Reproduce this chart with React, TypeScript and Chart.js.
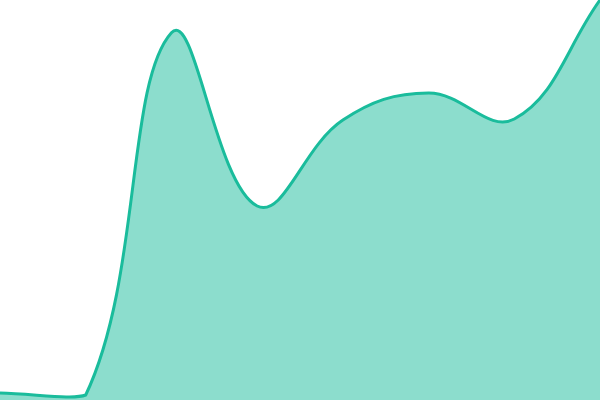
import React, { useEffect, useRef } from "react";
import { Chart, registerables } from "chart.js";

Chart.register(...registerables);

const labels = ["1", "2", "3", "4", "5", "6", "7", "8"];
const values = [1.75, 1.25, 91.8, 48.5, 70, 76.75, 70.25, 100];
const yMin = 0;
const yMax = 100;

export default function App() {
  const ref = useRef<HTMLCanvasElement | null>(null);
  useEffect(() => {
    document.body.style.margin = "0";
    if (!ref.current) return;
    const chart = new Chart(ref.current, {
      type: "line",
      data: {
        labels,
        datasets: [
          {
            data: values,
            borderColor: "#1abc9c",
            backgroundColor: "rgba(26,188,156,0.5)",
            borderWidth: 3,
            fill: "start",
            tension: 0.4,
            pointRadius: 0,
          },
        ],
      },
      options: {
        animation: false,
        responsive: false,
        maintainAspectRatio: false,
        layout: { padding: 0 },
        plugins: { legend: { display: false }, tooltip: { enabled: false } },
        scales: {
          x: { display: false, offset: false },
          y: { display: false, min: yMin, max: yMax },
        },
      },
    });
    return () => chart.destroy();
  }, []);
  return (
    <div style={{ width: 600, height: 400 }}>
      <canvas ref={ref} width={600} height={400} style={{ display: "block" }} />
    </div>
  );
}
